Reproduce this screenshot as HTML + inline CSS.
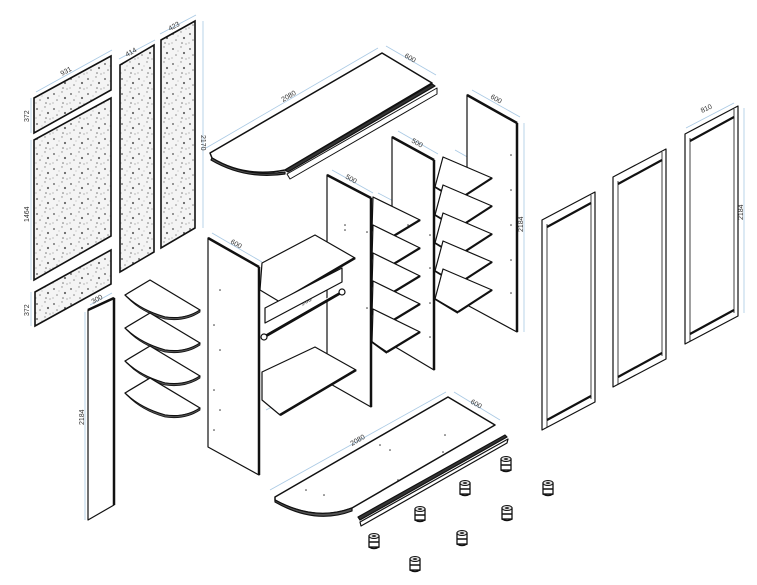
<!DOCTYPE html>
<html><head><meta charset="utf-8"><style>
html,body{margin:0;padding:0;background:#fff;}
svg{display:block;}
text{font-family:"Liberation Sans",sans-serif;font-size:7px;fill:#333;}
</style></head><body>
<svg width="757" height="585" viewBox="0 0 757 585" xmlns="http://www.w3.org/2000/svg">
<defs>
<pattern id="sp" width="17" height="15" patternUnits="userSpaceOnUse">
<rect width="17" height="15" fill="#f4f4f4"/>
<circle cx="3" cy="4" r="1" fill="#777"/><circle cx="11" cy="2" r="0.7" fill="#888"/>
<circle cx="14" cy="8" r="1.1" fill="#666"/><circle cx="6" cy="10" r="0.8" fill="#888"/>
<circle cx="12" cy="13" r="0.8" fill="#777"/><circle cx="2" cy="13" r="0.6" fill="#999"/>
<circle cx="16" cy="14" r="0.6" fill="#888"/><circle cx="8" cy="6" r="0.5" fill="#999"/>
</pattern>
<g id="foot">
<rect x="-5" y="-4" width="10" height="11" fill="#fff" stroke="#111" stroke-width="1.3"/>
<ellipse cx="0" cy="-4" rx="5" ry="2.5" fill="#ddd" stroke="#111" stroke-width="1"/>
<ellipse cx="0" cy="-4" rx="2" ry="1" fill="#333"/>
<line x1="-5" y1="2" x2="5" y2="2" stroke="#111" stroke-width="1.5"/>
<path d="M-5,7 Q0,10 5,7" fill="none" stroke="#111" stroke-width="1.5"/>
</g>
</defs>
<g fill="none" stroke="#a9c9e4" stroke-width="0.8">
<line x1="36" y1="92" x2="112" y2="50"/><line x1="119" y1="59" x2="155" y2="40"/><line x1="160" y1="34" x2="196" y2="15"/>
<line x1="31" y1="98" x2="31" y2="133"/><line x1="31" y1="140" x2="31" y2="280"/><line x1="31" y1="292" x2="31" y2="326"/>
<line x1="203" y1="21" x2="203" y2="228"/>
<line x1="85" y1="312" x2="85" y2="520"/><line x1="90" y1="305" x2="112" y2="293"/>
<line x1="206" y1="148" x2="378" y2="48"/><line x1="386" y1="46" x2="436" y2="75"/>
<line x1="472" y1="90" x2="520" y2="117"/><line x1="524" y1="123" x2="524" y2="332"/>
<line x1="398" y1="131" x2="438" y2="154"/><line x1="332" y1="170" x2="373" y2="193"/>
<line x1="212" y1="233" x2="262" y2="262"/>
<line x1="378" y1="193" x2="420" y2="215"/><line x1="455" y1="150" x2="494" y2="172"/>
<line x1="386" y1="238" x2="420" y2="220"/><line x1="458" y1="198" x2="492" y2="180"/>
<line x1="328" y1="346" x2="357" y2="362"/>
<line x1="266" y1="410" x2="352" y2="366"/>
<line x1="270" y1="490" x2="446" y2="392"/><line x1="454" y1="392" x2="500" y2="420"/>
<line x1="686" y1="128" x2="734" y2="103"/><line x1="744" y1="108" x2="744" y2="313"/>
</g>
<g stroke="#111" stroke-width="1.6" fill="url(#sp)">
<polygon points="34,98 111,56 111,90 34,133"/>
<polygon points="34,140 111,98 111,236 34,280"/>
<polygon points="35,292 111,250 111,284 35,326"/>
<polygon points="120,65 154,45 154,252 120,272"/>
<polygon points="161,40 195,21 195,228 161,248"/>
</g>
<g>
<text transform="translate(62,76) rotate(-29)">931</text>
<text transform="translate(127,57) rotate(-29)">414</text>
<text transform="translate(170,31) rotate(-29)">423</text>
<text transform="translate(29,122) rotate(-90)">372</text>
<text transform="translate(29,222) rotate(-90)">1464</text>
<text transform="translate(29,316) rotate(-90)">372</text>
<text transform="translate(201,135) rotate(90)">2170</text>
<text transform="translate(84,425) rotate(-90)">2184</text>
<text transform="translate(93,304) rotate(-29)">300</text>
<text transform="translate(283,102) rotate(-30)">2080</text>
<text transform="translate(404,57) rotate(30)">600</text>
<text transform="translate(490,98) rotate(30)">600</text>
<text transform="translate(523,232) rotate(-90)">2184</text>
<text transform="translate(411,142) rotate(30)">500</text>
<text transform="translate(345,178) rotate(30)">500</text>
<text transform="translate(230,243) rotate(30)">600</text>
<text transform="translate(395,200) rotate(30)">500</text>
<text transform="translate(468,157) rotate(30)">500</text>
<text transform="translate(396,230) rotate(-30)">400</text>
<text transform="translate(467,190) rotate(-30)">400</text>
<text transform="translate(332,355) rotate(30)">500</text>
<text transform="translate(302,306) rotate(-30)">908</text>
<text transform="translate(310,390) rotate(-30)">908</text>
<text transform="translate(352,446) rotate(-30)">2080</text>
<text transform="translate(470,403) rotate(30)">600</text>
<text transform="translate(702,113) rotate(-25)">810</text>
<text transform="translate(743,220) rotate(-90)">2184</text>
</g>
<g stroke="#111" fill="#fff" stroke-width="1.2" stroke-linejoin="round">
<path d="M210,153 L382,53 L432,83 L285,170 Q245,178 212,158 Z" stroke-width="1.5"/>
<path d="M212,158 Q245,178 285,172 L285,174 Q245,180 211,160 Z" fill="#555"/>
<polygon points="285,170 432,84 435,86 288,172" fill="#333"/>
<polygon points="287,174 437,88 437,94 290,179" stroke-width="1"/>
<polygon points="88,310 114,298 114,505 88,520"/>
<line x1="114" y1="298" x2="114" y2="505" stroke-width="2.5"/>
<line x1="88" y1="310" x2="114" y2="298" stroke-width="2.5"/>
<g id="qs"><path d="M125,295 L150,280 L200,310 Q185,320 165,317 Q140,310 125,295 Z" stroke-width="1.3"/><path d="M125,295 Q140,312 165,319 Q185,322 200,312 L200,310 Q185,320 165,317 Q140,310 125,295Z" fill="#555" stroke-width="0.8"/></g>
<use href="#qs" y="33"/><use href="#qs" y="66"/><use href="#qs" y="98"/>
<polygon points="467,95 517,123 517,332 467,305"/>
<line x1="467" y1="95" x2="517" y2="123" stroke-width="2.5"/><line x1="517" y1="123" x2="517" y2="332" stroke-width="2.5"/>
<g id="s2"><polygon points="435,187 443,157 492,178 458,200"/><line x1="458" y1="200" x2="492" y2="178" stroke-width="2.2"/><line x1="435" y1="187" x2="458" y2="201" stroke-width="1.8"/></g>
<use href="#s2" y="28"/><use href="#s2" y="56"/><use href="#s2" y="84"/><use href="#s2" y="112"/>
<polygon points="392,137 434,160 434,370 392,345"/>
<line x1="392" y1="137" x2="434" y2="160" stroke-width="2.5"/><line x1="434" y1="160" x2="434" y2="370" stroke-width="2.5"/>
<g id="s1"><polygon points="372,230 373,197 420,220 387,240"/><line x1="387" y1="240" x2="420" y2="220" stroke-width="2.2"/><line x1="372" y1="230" x2="387" y2="241" stroke-width="1.8"/></g>
<use href="#s1" y="28"/><use href="#s1" y="56"/><use href="#s1" y="84"/><use href="#s1" y="112"/>
<polygon points="327,175 371,198 371,407 327,382"/>
<line x1="327" y1="175" x2="371" y2="198" stroke-width="2.5"/><line x1="371" y1="198" x2="371" y2="407" stroke-width="2.5"/>
<polygon points="262,263 315,235 355,258 280,302 260,290"/>
<line x1="280" y1="302" x2="355" y2="258" stroke-width="2.5"/>
<polygon points="265,308 342,268 342,282 265,323"/>
<line x1="264" y1="337" x2="342" y2="292" stroke-width="3"/>
<line x1="265" y1="334" x2="342" y2="290" stroke="#fff" stroke-width="1"/>
<circle cx="264" cy="337" r="3"/><circle cx="342" cy="292" r="3"/>
<polygon points="262,372 315,347 356,370 280,415 262,400"/>
<line x1="280" y1="415" x2="356" y2="370" stroke-width="2.5"/>
<polygon points="208,238 259,267 259,475 208,447"/>
<line x1="208" y1="238" x2="259" y2="267" stroke-width="2.5"/><line x1="259" y1="267" x2="259" y2="475" stroke-width="2.5"/>
<g id="d1">
<polygon points="542,220 595,192 595,402 542,430" stroke-width="1.2"/>
<line x1="547" y1="224" x2="547" y2="427" stroke-width="0.8"/>
<line x1="591" y1="195" x2="591" y2="399" stroke-width="0.8"/>
<line x1="547" y1="227" x2="591" y2="203" stroke-width="2.2"/>
<line x1="547" y1="420" x2="591" y2="396" stroke-width="2.2"/>
</g>
<use href="#d1" x="71" y="-43"/>
<use href="#d1" x="143" y="-86"/>
<path d="M275,497 L448,397 L495,425 L352,508 Q315,522 275,500 Z" stroke-width="1.5"/>
<path d="M275,500 Q315,522 352,508 L352,511 Q315,525 275,502 Z" fill="#555"/>
<polygon points="358,517 505,435 507,437 360,520" fill="#333"/>
<polygon points="360,522 508,439 507,443 361,526" fill="#fff"/>
</g>
<g fill="#333">
<circle cx="220" cy="290" r="0.8"/><circle cx="214" cy="325" r="0.8"/><circle cx="220" cy="350" r="0.8"/><circle cx="214" cy="390" r="0.8"/><circle cx="220" cy="410" r="0.8"/><circle cx="214" cy="430" r="0.8"/>
<circle cx="345" cy="225" r="0.8"/><circle cx="345" cy="230" r="0.8"/><circle cx="367" cy="232" r="0.8"/><circle cx="367" cy="308" r="0.8"/>
<circle cx="408" cy="225" r="0.8"/><circle cx="430" cy="235" r="0.8"/><circle cx="430" cy="268" r="0.8"/><circle cx="430" cy="303" r="0.8"/><circle cx="430" cy="337" r="0.8"/>
<circle cx="511" cy="155" r="0.8"/><circle cx="511" cy="190" r="0.8"/><circle cx="511" cy="225" r="0.8"/><circle cx="511" cy="260" r="0.8"/><circle cx="511" cy="293" r="0.8"/>
<circle cx="306" cy="490" r="0.8"/><circle cx="324" cy="495" r="0.8"/><circle cx="380" cy="445" r="0.8"/><circle cx="390" cy="450" r="0.8"/><circle cx="445" cy="435" r="0.8"/><circle cx="443" cy="452" r="0.8"/><circle cx="398" cy="480" r="0.8"/>
</g>
<use href="#foot" x="506" y="463"/><use href="#foot" x="465" y="487"/><use href="#foot" x="548" y="487"/>
<use href="#foot" x="420" y="513"/><use href="#foot" x="507" y="512"/><use href="#foot" x="374" y="540"/>
<use href="#foot" x="462" y="537"/><use href="#foot" x="415" y="563"/>
</svg>
</body></html>
